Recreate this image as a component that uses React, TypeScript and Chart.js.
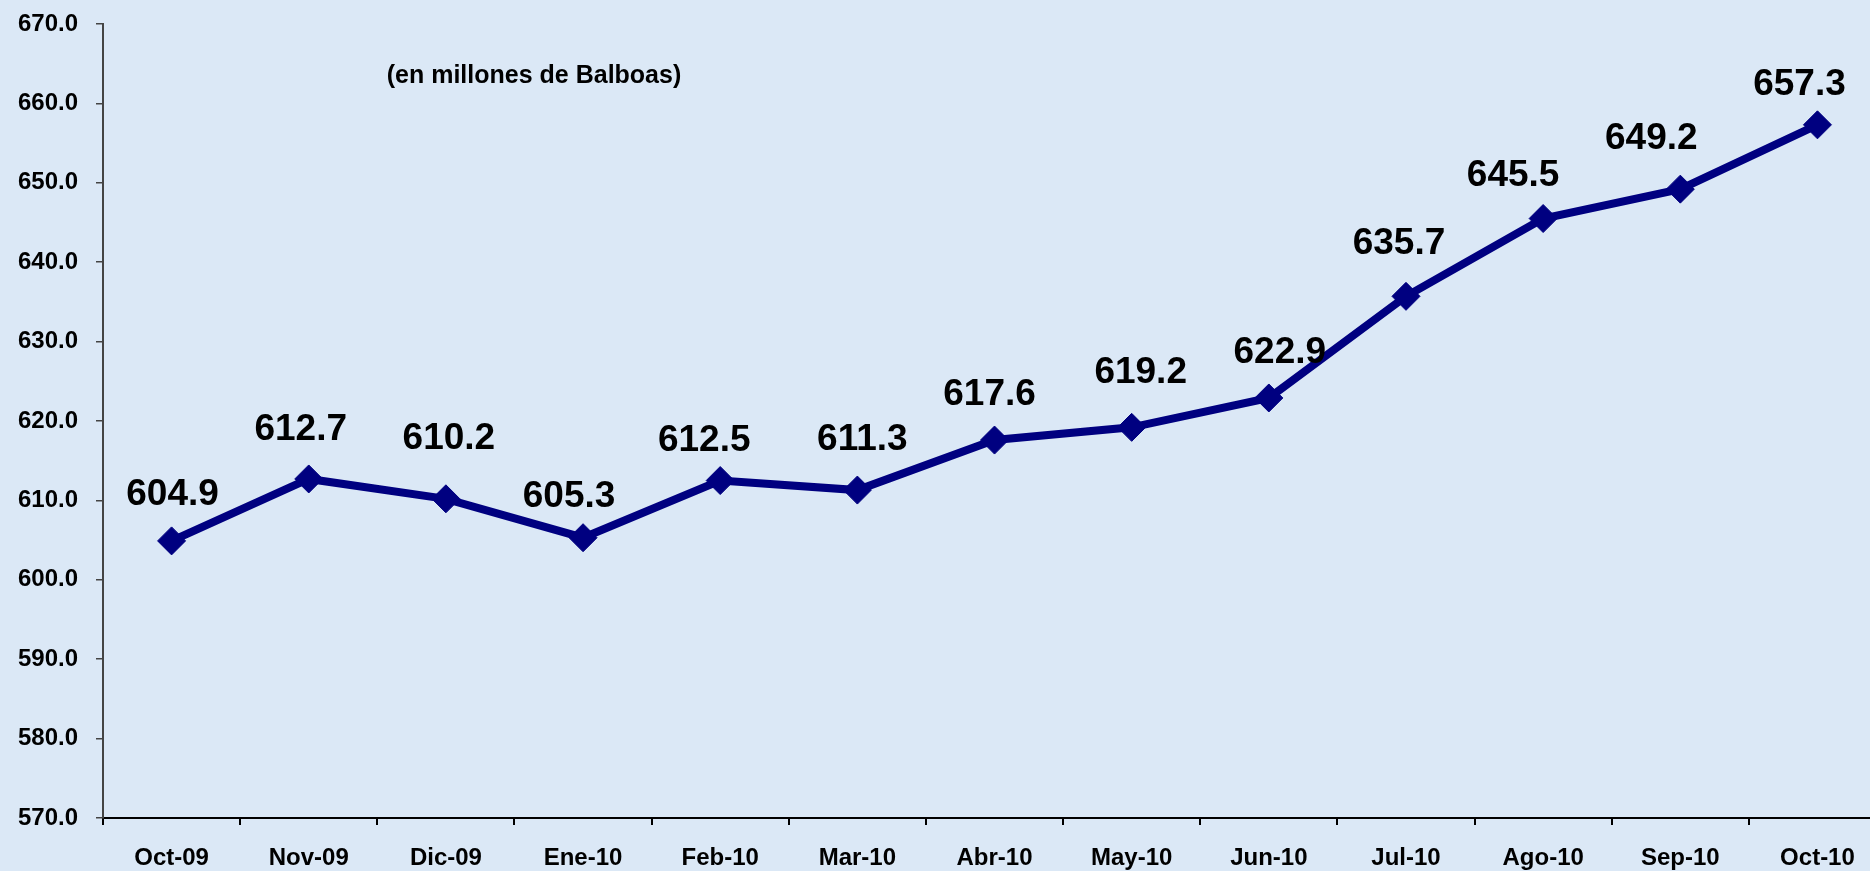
import { useEffect, useRef } from "react";
import { Chart, registerables } from "chart.js";

Chart.register(...registerables);

const months = ["Oct-09", "Nov-09", "Dic-09", "Ene-10", "Feb-10", "Mar-10", "Abr-10", "May-10", "Jun-10", "Jul-10", "Ago-10", "Sep-10", "Oct-10"];
const values = [604.9, 612.7, 610.2, 605.3, 612.5, 611.3, 617.6, 619.2, 622.9, 635.7, 645.5, 649.2, 657.3];
const yMin = 570;
const yMax = 670;
const yStep = 10;
const subtitle = "(en millones de Balboas)";

// data label placement relative to each point (label styling, not data)
const labelDx = [1, -8, 3, -14, -16, 5, -5, 9, 11, -7, -30, -29, -18];
const labelDy = [-36, -39, -50, -31, -30, -40, -35, -44, -35, -42, -33, -40, -30];

const FONT = '"Liberation Sans", Arial, sans-serif';
const BG = "rgb(219,232,246)";
const W = 1870;
const H = 871;
// the original category axis is cut off a little before its last boundary
const X_MIN = -0.5;
const X_MAX = months.length - 0.5 - 0.117;

const points = values.map((v, i) => ({ x: i, y: v }));

const bgPlugin = {
  id: "bgFill",
  beforeDraw(chart: any) {
    const { ctx } = chart;
    ctx.save();
    ctx.fillStyle = BG;
    ctx.fillRect(0, 0, chart.width, chart.height);
    ctx.restore();
  },
};

const labelsPlugin = {
  id: "valueLabels",
  afterDatasetsDraw(chart: any) {
    const ctx = chart.ctx;
    const meta = chart.getDatasetMeta(0);
    ctx.save();
    ctx.fillStyle = "#000";
    ctx.textAlign = "center";
    ctx.textBaseline = "alphabetic";
    ctx.font = `bold 37px ${FONT}`;
    meta.data.forEach((pt: any, i: number) => {
      ctx.fillText(values[i].toFixed(1), pt.x + labelDx[i], pt.y + labelDy[i]);
    });
    ctx.font = `bold 25px ${FONT}`;
    ctx.fillText(subtitle, 534, 83);
    ctx.restore();
  },
};

export default function App() {
  const ref = useRef<HTMLCanvasElement | null>(null);

  useEffect(() => {
    document.body.style.margin = "0";
    document.body.style.background = BG;
    const canvas = ref.current;
    if (!canvas) return;
    const chart = new Chart(canvas, {
      type: "line",
      data: {
        datasets: [
          {
            data: points,
            borderColor: "#000080",
            backgroundColor: "#000080",
            borderWidth: 8,
            tension: 0,
            pointStyle: "rectRot",
            pointRadius: 14,
            pointHoverRadius: 14,
            pointBackgroundColor: "#000080",
            pointBorderColor: "#000080",
            pointBorderWidth: 1,
            clip: false as any,
          },
        ],
      },
      options: {
        animation: false,
        responsive: false,
        devicePixelRatio: 1,
        layout: { autoPadding: false, padding: { top: 24, right: 0, bottom: 0, left: 0 } },
        plugins: {
          legend: { display: false },
          tooltip: { enabled: false },
          title: { display: false },
        },
        scales: {
          x: {
            type: "linear",
            min: X_MIN,
            max: X_MAX,
            afterBuildTicks: (s: any) => {
              s.ticks = months.map((_, i) => ({ value: i }));
            },
            grid: {
              display: true,
              drawOnChartArea: false,
              drawTicks: true,
              tickLength: 7,
              color: "#000",
              lineWidth: 2,
              offset: true,
            },
            border: { display: true, color: "#000", width: 2 },
            ticks: {
              color: "#000",
              font: { family: FONT, size: 24, weight: "bold" },
              padding: 19,
              maxRotation: 0,
              minRotation: 0,
              autoSkip: false,
              callback: (v: any) => months[Math.round(Number(v))] ?? "",
            },
            afterFit: (s: any) => {
              s.height = 53;
              s.paddingLeft = 0;
              s.paddingRight = 0;
            },
          },
          y: {
            min: yMin,
            max: yMax,
            grid: {
              display: true,
              drawOnChartArea: false,
              drawTicks: true,
              tickLength: 7,
              color: "#444",
              lineWidth: 1.5,
            },
            border: { display: true, color: "#444", width: 2 },
            ticks: {
              stepSize: yStep,
              color: "#000",
              font: { family: FONT, size: 24, weight: "bold" },
              padding: 18,
              callback: (v: any) => Number(v).toFixed(1),
            },
            afterFit: (s: any) => {
              s.width = 103;
              s.paddingTop = 0;
              s.paddingBottom = 0;
            },
          },
        },
      },
      plugins: [bgPlugin, labelsPlugin],
    });
    return () => chart.destroy();
  }, []);

  return (
    <div style={{ width: W, height: H, background: BG }}>
      <canvas ref={ref} width={W} height={H} style={{ display: "block", width: W, height: H }} />
    </div>
  );
}
